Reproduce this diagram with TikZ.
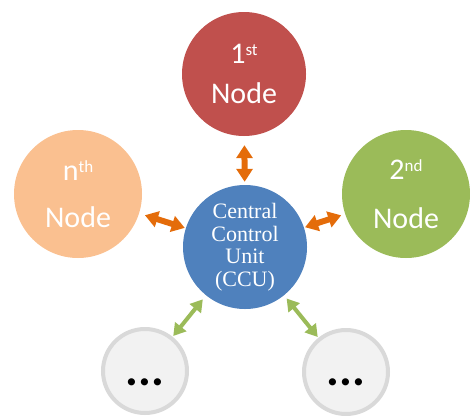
\documentclass[tikz,border=0pt]{standalone}
\usepackage{fontspec}
\setmainfont{Carlito}
\newfontfamily\ccufont{Liberation Serif}
\usetikzlibrary{arrows.meta}
\definecolor{nodered}{HTML}{C0504D}
\definecolor{nodepeach}{HTML}{FAC090}
\definecolor{nodegreen}{HTML}{9BBB59}
\definecolor{nodeblue}{HTML}{4F81BD}
\definecolor{arroworange}{HTML}{E46C0A}
\definecolor{arrowgreen}{HTML}{9BBB59}
\definecolor{dotfill}{HTML}{F2F2F2}
\definecolor{dotborder}{HTML}{D9D9D9}
\newcommand\mysup[1]{\raisebox{8pt}{\fontsize{17}{17}\selectfont #1}}
\tikzset{
  bignode/.style={circle, inner sep=0pt, minimum size=124pt, text=white, align=center},
  ccunode/.style={circle, inner sep=0pt, minimum size=124pt, fill=nodeblue, text=white, align=center,
    font=\ccufont\fontsize{22}{22.5}\selectfont},
  dotnode/.style={circle, inner sep=0pt, minimum size=84pt, fill=dotfill, draw=dotborder, line width=4pt},
  dotstext/.style={inner sep=0pt, font=\fontsize{48}{48}\selectfont\bfseries},
  orangearrow/.style={draw=arroworange, line width=6pt,
    {Triangle[width=16pt,length=13pt]}-{Triangle[width=16pt,length=13pt]}},
  greenarrow/.style={draw=arrowgreen, line width=4pt,
    {Triangle[width=14pt,length=12pt]}-{Triangle[width=14pt,length=12pt]}}
}
\begin{document}
\begin{tikzpicture}[x=1pt,y=-1pt]
\useasboundingbox (0,0) rectangle (470,415);
\node[bignode, fill=nodered, font=\fontsize{30}{40}\selectfont] (first) at (244,74) {1\mysup{st}\\Node};
\node[bignode, fill=nodepeach, minimum size=128pt, font=\fontsize{30}{47}\selectfont] (nth) at (78,194) {n\mysup{th}\\Node};
\node[bignode, fill=nodegreen, minimum size=128pt, font=\fontsize{30}{49}\selectfont] (second) at (406,194) {2\mysup{nd}\\Node};
\node[ccunode] (ccu) at (245,247) {Central\\Control\\Unit\\(CCU)};
\node[dotnode] (bl) at (145,371) {};
\node[dotnode] (br) at (346,372) {};
\node[dotstext] (bldots) at (145,382) {...};
\node[dotstext] (brdots) at (346,382) {...};
\draw[orangearrow, shorten <=9pt, shorten >=3pt] (first) -- (ccu);
\draw[orangearrow, shorten <=6pt, shorten >=1pt] (nth) -- (ccu);
\draw[orangearrow, shorten <=4pt, shorten >=1pt] (second) -- (ccu);
\draw[greenarrow, shorten <=1pt, shorten >=5pt] (bl) -- (ccu);
\draw[greenarrow, shorten <=1pt, shorten >=4pt] (br) -- (ccu);
\end{tikzpicture}
\end{document}
